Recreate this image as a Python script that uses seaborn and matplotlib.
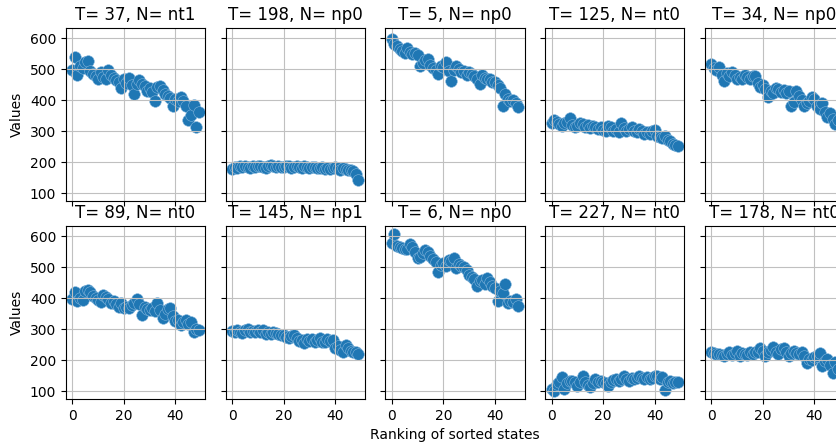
import matplotlib
matplotlib.use("Agg")
import matplotlib.pyplot as plt
import seaborn as sns
import pandas as pd

# Panel titles: (T, N) for each of the ten states
titles_top = ["T= 37, N= nt1", "T= 198, N= np0", "T= 5, N= np0", "T= 125, N= nt0", "T= 34, N= np0"]
titles_bottom = ["T= 89, N= nt0", "T= 145, N= np1", "T= 6, N= np0", "T= 227, N= nt0", "T= 178, N= nt0"]

ranks = list(range(50))

t37_nt1 = [498, 540, 482, 512, 505, 522, 527, 496, 486, 478, 470, 492, 476, 468, 497, 482, 472, 466, 458, 440,
           468, 456, 472, 448, 420, 454, 466, 452, 446, 430, 440, 426, 398, 442, 447, 432, 420, 415, 408, 380,
           405, 398, 412, 396, 382, 336, 352, 384, 312, 362]
t198_np0 = [178, 184, 182, 186, 183, 188, 185, 181, 187, 183, 186, 189, 184, 182, 187, 190, 186, 183, 188, 185,
            184, 187, 186, 182, 185, 188, 183, 181, 186, 184, 182, 185, 183, 180, 182, 184, 179, 181, 178, 180,
            183, 180, 176, 181, 178, 176, 174, 170, 162, 142]
t5_np0 = [597, 582, 575, 566, 560, 552, 568, 556, 548, 552, 545, 512, 520, 530, 534, 515, 505, 498, 485, 512,
          508, 523, 495, 463, 498, 510, 500, 490, 495, 482, 490, 485, 478, 470, 453, 480, 472, 468, 470, 460,
          458, 450, 440, 383, 420, 405, 398, 400, 390, 378]
t125_nt0 = [328, 335, 330, 322, 318, 325, 330, 343, 320, 312, 318, 326, 322, 315, 320, 310, 318, 312, 308, 314,
            305, 300, 316, 312, 302, 306, 296, 326, 310, 300, 306, 312, 302, 296, 306, 300, 290, 298, 292, 302,
            304, 285, 282, 278, 285, 272, 268, 260, 255, 252]
t34_np0 = [517, 505, 498, 506, 480, 463, 488, 478, 490, 482, 470, 476, 468, 480, 474, 470, 478, 479, 455, 442,
           448, 436, 410, 430, 422, 438, 437, 428, 432, 425, 430, 383, 395, 431, 415, 400, 383, 392, 398, 410,
           405, 380, 372, 390, 362, 346, 358, 340, 324, 335]
t89_nt0 = [397, 419, 390, 402, 395, 425, 427, 420, 408, 400, 395, 388, 411, 405, 398, 384, 392, 380, 373, 385,
           368, 372, 370, 378, 385, 397, 380, 347, 372, 365, 363, 370, 358, 386, 362, 337, 350, 365, 368, 342,
           326, 330, 315, 322, 331, 318, 322, 291, 300, 298]
t145_np1 = [295, 290, 298, 292, 288, 296, 300, 292, 294, 290, 296, 292, 298, 286, 290, 284, 292, 288, 286, 280,
            282, 276, 272, 278, 280, 272, 262, 265, 255, 268, 262, 270, 258, 265, 272, 260, 258, 270, 262, 266,
            240, 245, 232, 225, 248, 240, 230, 225, 228, 220]
t6_np0 = [580, 608, 569, 565, 562, 560, 558, 575, 565, 550, 530, 532, 545, 555, 548, 535, 528, 517, 485, 508,
          513, 505, 524, 520, 529, 497, 512, 505, 502, 490, 475, 470, 462, 439, 455, 460, 445, 465, 452, 440,
          434, 391, 425, 417, 447, 385, 392, 388, 398, 374]
t227_nt0 = [107, 100, 123, 128, 145, 107, 125, 132, 134, 128, 118, 130, 150, 131, 120, 113, 126, 139, 128, 132,
            129, 125, 118, 130, 136, 139, 132, 138, 150, 140, 134, 142, 138, 144, 150, 142, 138, 146, 139, 144,
            150, 148, 140, 145, 105, 128, 134, 126, 130, 128]
t178_nt0 = [225, 222, 220, 219, 216, 214, 220, 227, 218, 222, 230, 214, 224, 221, 218, 226, 220, 225, 228, 239,
            230, 214, 226, 232, 241, 228, 219, 236, 239, 226, 214, 222, 230, 224, 219, 228, 215, 192, 205, 200,
            209, 212, 222, 182, 198, 203, 185, 160, 195, 172]

series_top = [t37_nt1, t198_np0, t5_np0, t125_nt0, t34_np0]
series_bottom = [t89_nt0, t145_np1, t6_np0, t227_nt0, t178_nt0]

W, H = 837, 447
fig, axes = plt.subplots(2, 5, sharex=True, sharey=True, figsize=(W / 100, H / 100), dpi=100)
fig.subplots_adjust(left=66 / W, right=844 / W, bottom=1 - 399 / H, top=1 - 28 / H,
                    wspace=0.149, hspace=0.145)

for row, (titles, series) in enumerate([(titles_top, series_top), (titles_bottom, series_bottom)]):
    for col in range(5):
        ax = axes[row, col]
        df = pd.DataFrame({"rank": ranks, "value": series[col]})
        sns.scatterplot(data=df, x="rank", y="value", ax=ax, color="#1f77b4", s=70,
                        linewidth=0.4, edgecolor="#7fb3da")
        ax.set_title(titles[col], fontsize=12)
        ax.set_xlabel("")
        ax.set_ylabel("")
        ax.grid(True, color="#c0c0c0")

axes[0, 0].set_ylabel("Values")
axes[1, 0].set_ylabel("Values")
axes[1, 2].set_xlabel("Ranking of sorted states")
axes[1, 0].set_xticks([0, 20, 40])
axes[1, 0].set_yticks([100, 200, 300, 400, 500, 600])

fig.savefig("out.png", dpi=100)
